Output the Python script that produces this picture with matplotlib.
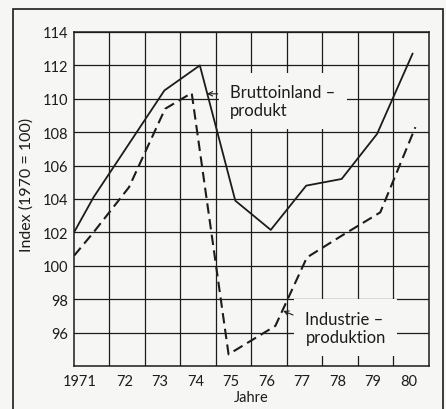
import matplotlib
matplotlib.use("Agg")
import matplotlib.pyplot as plt
from matplotlib.patches import Rectangle

plt.rcParams['font.family'] = ['Lato', 'DejaVu Sans']

# values
years = [1971, 1972, 1973, 1974, 1975, 1976, 1977, 1978, 1979, 1980]
year_labels = ['1971', '72', '73', '74', '75', '76', '77', '78', '79', '80']
x_start = 1970.45  # lines start at the left border
bip_start = 102.0
bip = [104.1, 107.3, 110.5, 112.0, 103.9, 102.15, 104.8, 105.2, 107.9, 112.7]
ind_start = 100.6
ind_x = [1971.0, 1972.0, 1973.02, 1973.77, 1974.81, 1976.13, 1977.02, 1978.0, 1979.09, 1980.08]
ind = [102.0, 104.7, 109.4, 110.35, 94.7, 96.4, 100.5, 101.8, 103.2, 108.3]
y_ticks = [96, 98, 100, 102, 104, 106, 108, 110, 112, 114]

bg = '#f6f6f4'
ink = '#1c1c1c'

fig = plt.figure(figsize=(4.46, 4.10), dpi=100, facecolor=bg)
ax = fig.add_axes([74/446, 1-367/410, (428.5-74)/446, (367-33)/410])
ax.set_facecolor(bg)

ax.plot([x_start] + years, [bip_start] + bip, color=ink, lw=1.3, zorder=3)
ax.plot([x_start] + ind_x, [ind_start] + ind, color=ink, lw=1.5,
        dashes=(5, 2.6), zorder=3)

ax.set_xlim(x_start, x_start + 10)
ax.set_ylim(94, 114)

# labels sit a bit left of the year columns, 1971 even more
label_pos = [y - 0.12 for y in years]
label_pos[0] -= 0.27
ax.set_xticks(label_pos)
ax.set_xticklabels(year_labels, fontsize=10.5, color=ink)
ax.set_xticks([y + 0.45 for y in years[:-1]], minor=True)
ax.set_yticks(y_ticks)
ax.set_yticklabels([str(v) for v in y_ticks], fontsize=10.5, color=ink)
ax.tick_params(axis='both', which='both', length=0)
ax.tick_params(axis='x', pad=6)
ax.tick_params(axis='y', pad=4)

ax.grid(True, axis='y', which='major', color=ink, lw=0.9)
ax.grid(True, axis='x', which='minor', color=ink, lw=0.9)
ax.set_axisbelow(True)
for s in ax.spines.values():
    s.set_color(ink)
    s.set_linewidth(1.1)

ax.set_xlabel('Jahre', fontsize=10.5, color=ink, labelpad=1)
ax.set_ylabel('Index (1970 = 100)', fontsize=11.5, color=ink)
ax.yaxis.set_label_coords(-0.115, 0.545)

box = dict(facecolor=bg, edgecolor='none', pad=8)
ax.annotate('Bruttoinland –\nprodukt', xy=(1974.2, 110.3), xytext=(1974.86, 109.85),
            fontsize=12, color=ink, ha='left', va='center', linespacing=1.15,
            bbox=box, zorder=2,
            arrowprops=dict(arrowstyle='->', color=ink, lw=0.8, mutation_scale=8,
                            relpos=(0, 0.72), shrinkA=1, shrinkB=0))
ax.annotate('Industrie –\nproduktion', xy=(1976.35, 97.3), xytext=(1976.98, 96.3),
            fontsize=12, color=ink, ha='left', va='center', linespacing=1.15,
            bbox=box, zorder=2,
            arrowprops=dict(arrowstyle='->', color=ink, lw=0.8, mutation_scale=8,
                            relpos=(0, 0.72), shrinkA=1, shrinkB=0))

# outer frame of the figure
fig.add_artist(Rectangle((13/446, -0.05), (443-13)/446, 1.05 - 10/410,
                         transform=fig.transFigure, fill=False, lw=1.2, color=ink))

fig.savefig('out.png', dpi=100, facecolor=bg)
